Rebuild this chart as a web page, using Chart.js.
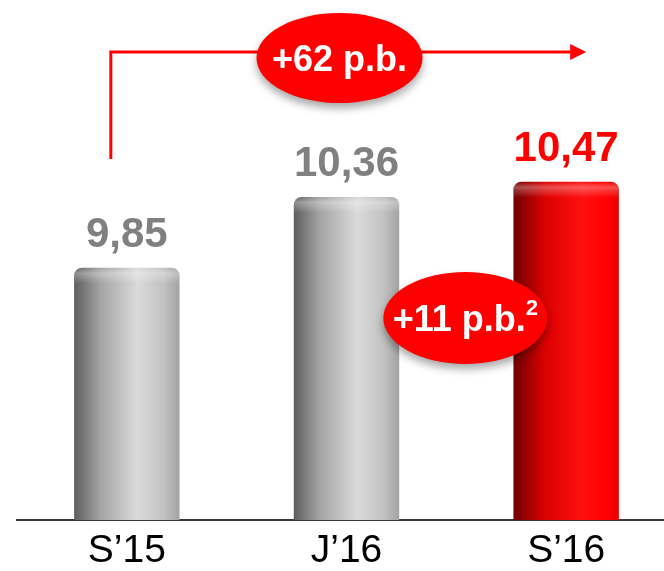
<!DOCTYPE html>
<html>
<head>
<meta charset="utf-8">
<script src="https://cdn.jsdelivr.net/npm/chart.js@4.4.0/dist/chart.umd.min.js"></script>
<style>
    html, body { margin: 0; padding: 0; background: #fff; overflow: hidden; }
    #wrap { position: relative; width: 676px; height: 571px; }
</style>
</head>
<body>
<div id="wrap"><canvas id="myChart"></canvas></div>
<script>
const labels = ['S\u201915', 'J\u201916', 'S\u201916'];
const values = [9.85, 10.36, 10.47];
const valueText = ['9,85', '10,36', '10,47'];
const valueColors = ['#808080', '#808080', '#ff0000'];
const bubbleText = ['+62 p.b.', '+11 p.b.'];

const grayStops = [[0, '#5e5e5e'], [0.25, '#a4a4a4'], [0.6, '#dadada'], [0.85, '#c2c2c2'], [1, '#a2a2a2']];
const redStops = [[0, '#6e0000'], [0.3, '#dc0000'], [0.65, '#ff1010'], [0.9, '#ff0000'], [1, '#e60000']];
const FONT = '"Liberation Sans", Arial, sans-serif';

function barFill(context) {
    const chart = context.chart;
    if (!chart.chartArea) return '#bbbbbb';
    const xs = chart.scales.x;
    const cx = xs.getPixelForValue(context.dataIndex);
    const w = xs.width / labels.length * 0.48;
    const g = chart.ctx.createLinearGradient(cx - w / 2, 0, cx + w / 2, 0);
    const stops = context.dataIndex === 2 ? redStops : grayStops;
    stops.forEach(s => g.addColorStop(s[0], s[1]));
    return g;
}

function drawBubble(ctx, cx, cy, rx, ry, text, sup) {
    ctx.save();
    ctx.shadowColor = 'rgba(0,0,0,0.35)';
    ctx.shadowBlur = 8;
    ctx.shadowOffsetY = 5;
    ctx.fillStyle = '#ff0000';
    ctx.beginPath();
    ctx.ellipse(cx, cy, rx, ry, 0, 0, Math.PI * 2);
    ctx.fill();
    ctx.restore();

    ctx.save();
    ctx.fillStyle = '#ffffff';
    ctx.textBaseline = 'alphabetic';
    ctx.font = 'bold 36px ' + FONT;
    const w1 = ctx.measureText(text).width;
    let w2 = 0;
    if (sup) {
        ctx.font = 'bold 22px ' + FONT;
        w2 = ctx.measureText(sup).width;
    }
    const left = cx - (w1 + w2) / 2;
    ctx.font = 'bold 36px ' + FONT;
    ctx.textAlign = 'left';
    ctx.fillText(text, left, cy + 13);
    if (sup) {
        ctx.font = 'bold 22px ' + FONT;
        ctx.fillText(sup, left + w1, cy - 3);
    }
    ctx.restore();
}

const extras = {
    id: 'extras',
    afterDatasetsDraw(chart) {
        const ctx = chart.ctx;
        const meta = chart.getDatasetMeta(0);
        // soft highlight near the top of each bar
        meta.data.forEach(bar => {
            const w = bar.width;
            ctx.save();
            ctx.beginPath();
            ctx.roundRect(bar.x - w / 2, bar.y, w, 16, [8, 8, 0, 0]);
            ctx.clip();
            const g = ctx.createLinearGradient(0, bar.y, 0, bar.y + 16);
            g.addColorStop(0, 'rgba(255,255,255,0)');
            g.addColorStop(0.35, 'rgba(255,255,255,0.3)');
            g.addColorStop(1, 'rgba(255,255,255,0)');
            ctx.fillStyle = g;
            ctx.fillRect(bar.x - w / 2, bar.y, w, 16);
            ctx.restore();
        });
        // value labels
        ctx.save();
        ctx.font = 'bold 42px ' + FONT;
        ctx.textAlign = 'center';
        ctx.textBaseline = 'alphabetic';
        meta.data.forEach((bar, i) => {
            ctx.fillStyle = valueColors[i];
            ctx.fillText(valueText[i], bar.x, bar.y - 21);
        });
        ctx.restore();
    },
    afterDraw(chart) {
        const ctx = chart.ctx;
        const xs = chart.scales.x;
        const x0 = xs.getPixelForValue(0);
        const x1 = xs.getPixelForValue(1);
        const x2 = xs.getPixelForValue(2);

        // arrow S'15 -> S'16
        ctx.save();
        ctx.strokeStyle = '#ff0000';
        ctx.fillStyle = '#ff0000';
        ctx.lineWidth = 3;
        ctx.beginPath();
        ctx.moveTo(x0 - 16, 159);
        ctx.lineTo(x0 - 16, 52);
        ctx.lineTo(x2 + 5, 52);
        ctx.stroke();
        ctx.beginPath();
        ctx.moveTo(x2 + 4, 44);
        ctx.lineTo(x2 + 20, 52);
        ctx.lineTo(x2 + 4, 60);
        ctx.closePath();
        ctx.fill();
        ctx.restore();

        drawBubble(ctx, (x0 + x2) / 2 - 7, 58, 83, 45, bubbleText[0]);
        drawBubble(ctx, (x1 + x2) / 2 + 9, 318, 82, 46, bubbleText[1], '2');
    }
};

const ctx = document.getElementById('myChart');

new Chart(ctx, {
    type: 'bar',
    data: {
        labels: labels,
        datasets: [{
            data: values,
            backgroundColor: barFill,
            borderWidth: 0,
            borderRadius: { topLeft: 8, topRight: 8, bottomLeft: 0, bottomRight: 0 },
            borderSkipped: false,
            categoryPercentage: 1,
            barPercentage: 0.48
        }]
    },
    options: {
        responsive: true,
        maintainAspectRatio: false,
        animation: false,
        layout: { padding: { left: 17, right: 0, top: 0, bottom: 0 } },
        plugins: {
            legend: false,
            tooltip: { enabled: false }
        },
        scales: {
            x: {
                grid: { display: false, drawTicks: false },
                border: { display: true, color: '#3a3a3a', width: 2 },
                ticks: {
                    color: '#000',
                    padding: 12,
                    font: { family: FONT, size: 39, lineHeight: 1 }
                },
                afterFit: function(scale) {
                    scale.height = 51;
                }
            },
            y: {
                display: false,
                min: 8.03,
                max: 11.78
            }
        }
    },
    plugins: [extras]
});
</script>
</body>
</html>
